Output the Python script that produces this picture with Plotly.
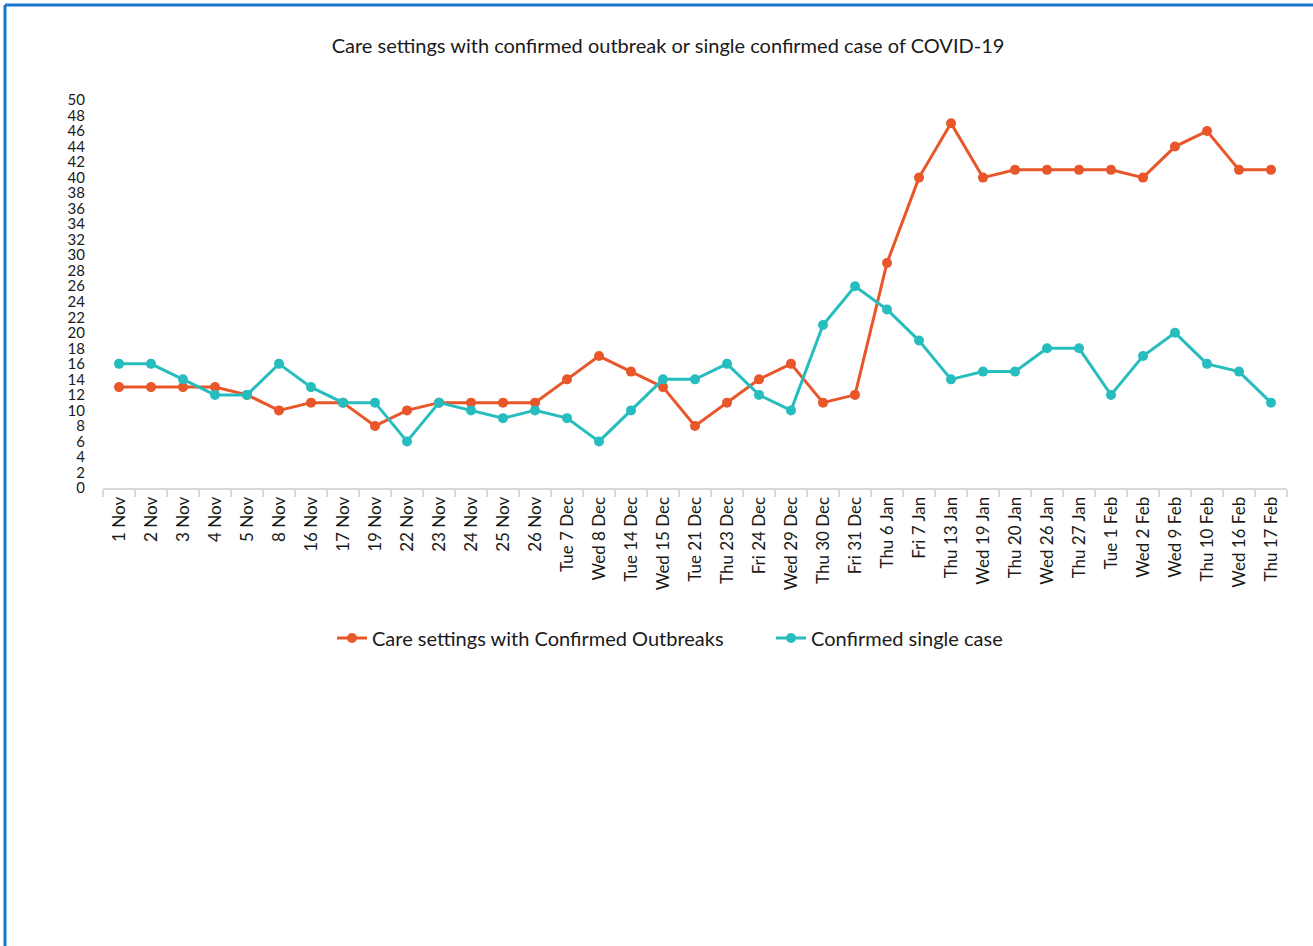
import plotly.graph_objects as go

dates = [
    "1 Nov", "2 Nov", "3 Nov", "4 Nov", "5 Nov", "8 Nov", "16 Nov", "17 Nov",
    "19 Nov", "22 Nov", "23 Nov", "24 Nov", "25 Nov", "26 Nov", "Tue 7 Dec",
    "Wed 8 Dec", "Tue 14 Dec", "Wed 15 Dec", "Tue 21 Dec", "Thu 23 Dec",
    "Fri 24 Dec", "Wed 29 Dec", "Thu 30 Dec", "Fri 31 Dec", "Thu 6 Jan",
    "Fri 7 Jan", "Thu 13 Jan", "Wed 19 Jan", "Thu 20 Jan", "Wed 26 Jan",
    "Thu 27 Jan", "Tue 1 Feb", "Wed 2 Feb", "Wed 9 Feb", "Thu 10 Feb",
    "Wed 16 Feb", "Thu 17 Feb",
]

outbreaks = [
    13, 13, 13, 13, 12, 10, 11, 11, 8, 10, 11, 11, 11, 11, 14, 17, 15, 13, 8,
    11, 14, 16, 11, 12, 29, 40, 47, 40, 41, 41, 41, 41, 40, 44, 46, 41, 41,
]

single_case = [
    16, 16, 14, 12, 12, 16, 13, 11, 11, 6, 11, 10, 9, 10, 9, 6, 10, 14, 14,
    16, 12, 10, 21, 26, 23, 19, 14, 15, 15, 18, 18, 12, 17, 20, 16, 15, 11,
]

y_ticks = list(range(0, 51, 2))

ORANGE = "#e8562a"
TEAL = "#27bdbe"
FONT = "Lato"
TEXT = "#1a1a1a"

W, H = 1313, 946
L, R, T, B = 103, 26, 100, 458
pw, ph = W - L - R, H - T - B

fig = go.Figure()
fig.add_trace(go.Scatter(
    x=dates, y=outbreaks, mode="lines+markers",
    name="Care settings with Confirmed Outbreaks",
    line=dict(color=ORANGE, width=3),
    marker=dict(color=ORANGE, size=10),
    legend="legend",
))
fig.add_trace(go.Scatter(
    x=dates, y=single_case, mode="lines+markers",
    name="Confirmed single case",
    line=dict(color=TEAL, width=3),
    marker=dict(color=TEAL, size=10),
    legend="legend2",
))

# blue frame along the top and left edges of the page
def px_x(p):
    return (p - L) / pw

def px_y(p):
    return (H - B - p) / ph

frame = "#1677cc"
fig.add_shape(type="line", xref="paper", yref="paper",
              x0=px_x(5), x1=px_x(W + 10), y0=px_y(5), y1=px_y(5),
              line=dict(color=frame, width=3))
fig.add_shape(type="line", xref="paper", yref="paper",
              x0=px_x(5), x1=px_x(5), y0=px_y(5), y1=px_y(H + 10),
              line=dict(color=frame, width=3))

legend_style = dict(
    orientation="h", xref="container", yref="container",
    xanchor="left", y=1 - 638 / H, yanchor="middle",
    font=dict(size=20, family=FONT, color=TEXT),
    bgcolor="rgba(0,0,0,0)",
)

fig.update_layout(
    width=W, height=H,
    margin=dict(l=L, r=R, t=T, b=B),
    paper_bgcolor="white", plot_bgcolor="white",
    font=dict(family=FONT, color=TEXT),
    title=dict(
        text="Care settings with confirmed outbreak or single confirmed case of COVID-19",
        x=668 / W, xref="container", xanchor="center",
        y=1 - 46 / H, yref="container", yanchor="middle",
        font=dict(size=20, family=FONT, color=TEXT),
    ),
    showlegend=True,
    legend=dict(x=332 / W, **legend_style),
    legend2=dict(x=771 / W, **legend_style),
)

fig.update_xaxes(
    type="category", range=[-0.5, len(dates) - 0.5],
    showline=True, linecolor="#d9d9d9", linewidth=2,
    ticks="outside", tickson="boundaries", ticklen=7, tickcolor="#d9d9d9",
    tickwidth=1.5, tickangle=-90, tickfont=dict(size=17, family=FONT),
    showgrid=False, zeroline=False,
)
fig.update_yaxes(
    range=[0, 50], tickmode="array", tickvals=y_ticks,
    ticktext=[str(v) for v in y_ticks],
    showline=False, showgrid=False, zeroline=False, ticks="",
    ticklabelstandoff=17,
    tickfont=dict(size=15, family=FONT),
)

fig.write_html("out.html")
